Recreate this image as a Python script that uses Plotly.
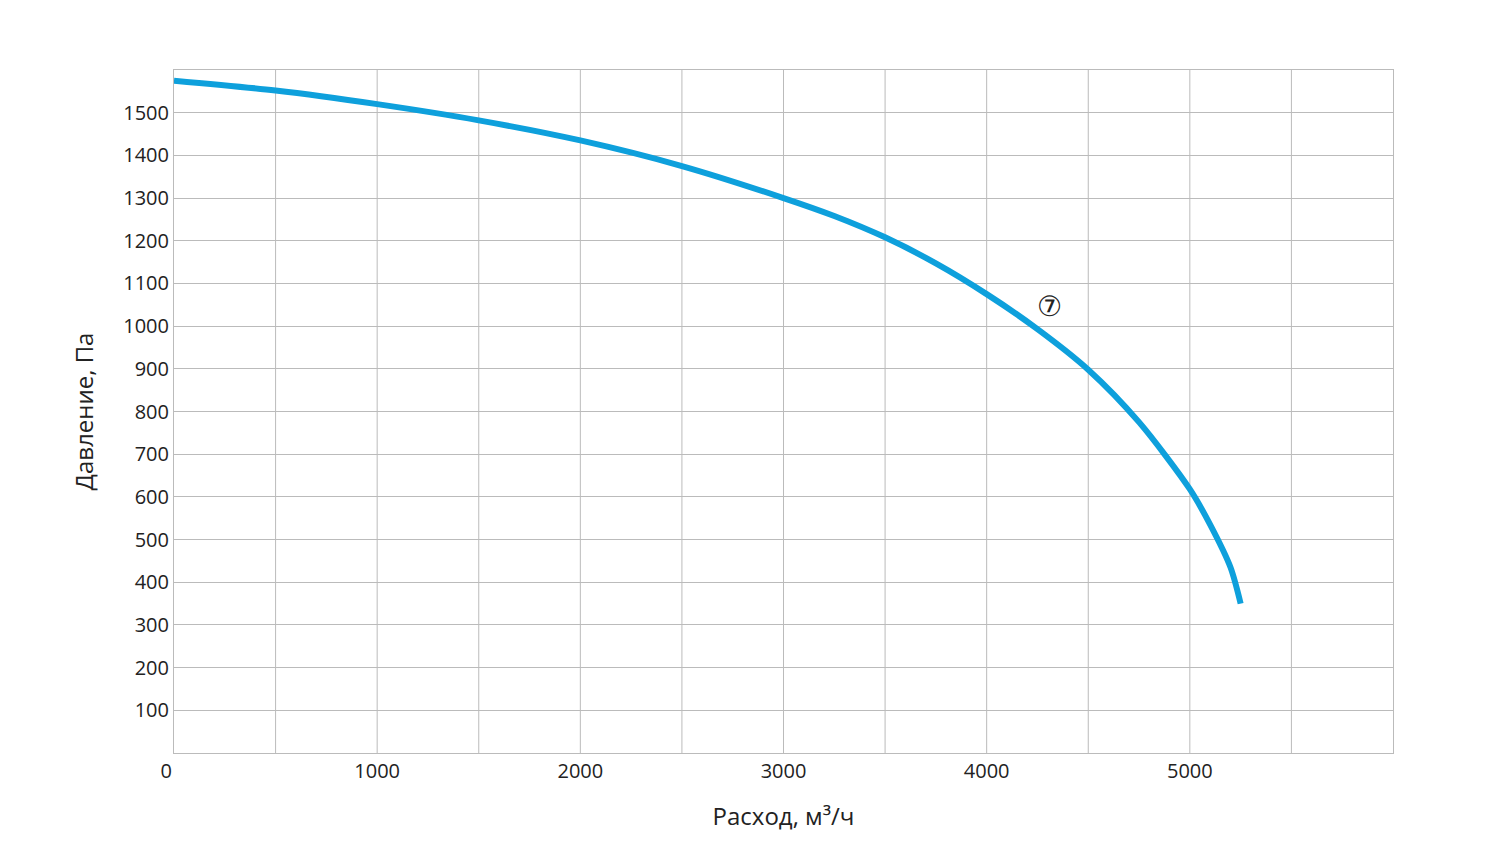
import plotly.graph_objects as go

flow = [0, 500, 1000, 1500, 2000, 2500, 3000, 3250, 3500, 3750, 4000, 4250, 4500, 4750, 5000, 5100, 5200, 5250]
pressure = [1575, 1552, 1520, 1482, 1435, 1375, 1300, 1258, 1208, 1147, 1075, 993, 898, 775, 618, 535, 435, 350]

x_ticks = [0, 1000, 2000, 3000, 4000, 5000]
x_labels = ['0   ', '1000', '2000', '3000', '4000', '5000']
y_ticks = list(range(100, 1600, 100))

fig = go.Figure()
fig.add_trace(go.Scatter(x=flow, y=pressure, mode='lines',
                         line=dict(color='#0ea0dc', width=6, shape='spline', smoothing=0.8),
                         showlegend=False))
fig.add_annotation(x=4310, y=1050, text='⑦', showarrow=False, font=dict(size=28, color='#222'))

fig.update_xaxes(range=[0, 6000], tickvals=x_ticks, ticktext=x_labels, showgrid=False,
                 showline=True, linecolor='#bbb', mirror=True, ticks='', zeroline=False,
                 automargin=False, title=dict(text='Расход, м³/ч', standoff=25))
fig.update_yaxes(range=[0, 1600], tickvals=y_ticks, showgrid=True, gridcolor='#bbb',
                 showline=True, linecolor='#bbb', mirror=True, ticks='', zeroline=False,
                 automargin=False, title=dict(text='Давление, Па', standoff=22))
# vertical grid every 500
for v in range(500, 6000, 500):
    fig.add_vline(x=v, line=dict(color='#bbb', width=1), layer='below')

fig.update_layout(width=1500, height=858, plot_bgcolor='white', paper_bgcolor='white',
                  margin=dict(l=166, r=115, t=62, b=113),
                  font=dict(family='Open Sans', size=20, color='#222'))
fig.write_html('out.html')
